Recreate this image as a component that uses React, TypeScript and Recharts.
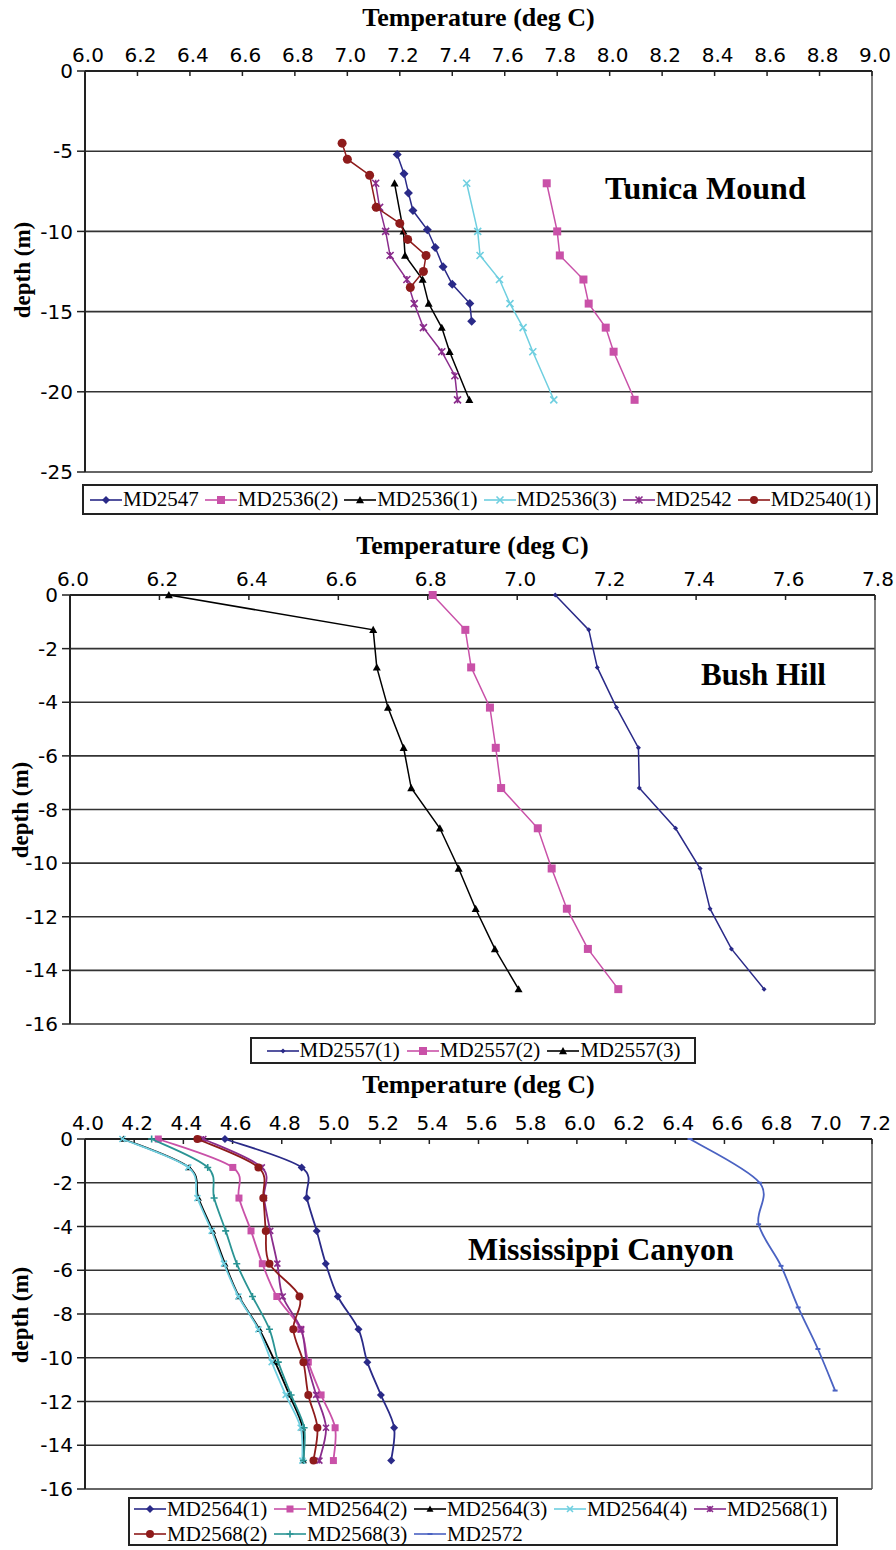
import React from "react";
import {
  CartesianGrid,
  Label,
  ReferenceLine,
  Scatter,
  ScatterChart,
  XAxis,
  YAxis
} from "recharts";

// ---- Tunica Mound ----
const tunicaTempTicks = [6.0, 6.2, 6.4, 6.6, 6.8, 7.0, 7.2, 7.4, 7.6, 7.8, 8.0, 8.2, 8.4, 8.6, 8.8, 9.0];
const tunicaDepthTicks = [0, -5, -10, -15, -20, -25];

const md2547Depth = [-5.2, -6.4, -7.6, -8.7, -9.9, -11.0, -12.2, -13.3, -14.5, -15.6];
const md2547Temp = [7.19, 7.216, 7.233, 7.25, 7.305, 7.335, 7.365, 7.4, 7.467, 7.474];

const md2536Depth = [-7, -10, -11.5, -13, -14.5, -16, -17.5, -20.5];
const md2536_2Temp = [7.76, 7.8, 7.81, 7.9, 7.92, 7.985, 8.015, 8.095];
const md2536_1Temp = [7.18, 7.214, 7.22, 7.287, 7.31, 7.36, 7.39, 7.465];
const md2536_3Temp = [7.455, 7.497, 7.506, 7.58, 7.62, 7.67, 7.707, 7.787];

const md2542Depth = [-7, -8.5, -10, -11.5, -13, -14.5, -16, -17.5, -19, -20.5];
const md2542Temp = [7.108, 7.123, 7.146, 7.163, 7.227, 7.255, 7.29, 7.36, 7.41, 7.42];

const md2540Depth = [-4.5, -5.5, -6.5, -8.5, -9.5, -10.5, -11.5, -12.5, -13.5];
const md2540Temp = [6.98, 7.0, 7.085, 7.11, 7.2, 7.23, 7.3, 7.29, 7.24];

// ---- Bush Hill ----
const bushTempTicks = [6.0, 6.2, 6.4, 6.6, 6.8, 7.0, 7.2, 7.4, 7.6, 7.8];
const bushDepthTicks = [0, -2, -4, -6, -8, -10, -12, -14, -16];

const coreDepth = [0, -1.3, -2.7, -4.2, -5.7, -7.2, -8.7, -10.2, -11.7, -13.2, -14.7];
const md2557_1Temp = [7.085, 7.16, 7.179, 7.222, 7.271, 7.273, 7.354, 7.409, 7.431, 7.479, 7.552];
const md2557_2Temp = [6.811, 6.884, 6.897, 6.939, 6.952, 6.964, 7.046, 7.077, 7.111, 7.158, 7.226];
const md2557_3Temp = [6.221, 6.678, 6.686, 6.711, 6.746, 6.763, 6.827, 6.869, 6.907, 6.95, 7.003];

// ---- Mississippi Canyon ----
const canyonTempTicks = [4.0, 4.2, 4.4, 4.6, 4.8, 5.0, 5.2, 5.4, 5.6, 5.8, 6.0, 6.2, 6.4, 6.6, 6.8, 7.0, 7.2];
const canyonDepthTicks = [0, -2, -4, -6, -8, -10, -12, -14, -16];

const md2564_1Temp = [4.569, 4.881, 4.902, 4.942, 4.979, 5.028, 5.112, 5.148, 5.203, 5.257, 5.245];
const md2564_2Temp = [4.298, 4.601, 4.626, 4.675, 4.721, 4.78, 4.877, 4.908, 4.96, 5.017, 5.01];
const md2564_3Temp = [4.156, 4.423, 4.461, 4.519, 4.569, 4.626, 4.709, 4.773, 4.831, 4.885, 4.888];
const md2564_4Temp = [4.152, 4.42, 4.457, 4.515, 4.565, 4.624, 4.705, 4.759, 4.816, 4.877, 4.884];
const md2568_1Temp = [4.481, 4.719, 4.728, 4.753, 4.782, 4.804, 4.879, 4.902, 4.94, 4.98, 4.953];
const md2568_2Temp = [4.457, 4.705, 4.725, 4.735, 4.75, 4.872, 4.847, 4.888, 4.908, 4.945, 4.929];
const md2568_3Temp = [4.271, 4.499, 4.525, 4.572, 4.617, 4.681, 4.75, 4.786, 4.838, 4.891, 4.888];
const md2572Depth = [0, -2, -3.9, -5.8, -7.7, -9.6, -11.5];
const md2572Temp = [6.46, 6.743, 6.739, 6.83, 6.9, 6.98, 7.05];

const NAVY = "#2a2a88";
const PINK = "#c951a8";
const CYAN = "#6fcfe0";
const PURPLE = "#8a2c8c";
const DARKRED = "#8e1b1b";
const TEAL = "#2a9494";
const STEEL = "#4a62c2";

type Kind = "diamond" | "square" | "triangle" | "x" | "star" | "circle" | "plus" | "dash";

type Series = {
  name: string;
  color: string;
  marker: Kind;
  size: number;
  temps: number[];
  depths: number[];
};

const zip = (temps: number[], depths: number[]) =>
  temps.map((t, i) => ({ t, d: depths[i] }));

const tunicaSeries: Series[] = [
  { name: "MD2547", color: NAVY, marker: "diamond", size: 9, temps: md2547Temp, depths: md2547Depth },
  { name: "MD2536(2)", color: PINK, marker: "square", size: 8, temps: md2536_2Temp, depths: md2536Depth },
  { name: "MD2536(1)", color: "#000", marker: "triangle", size: 8, temps: md2536_1Temp, depths: md2536Depth },
  { name: "MD2536(3)", color: CYAN, marker: "x", size: 7, temps: md2536_3Temp, depths: md2536Depth },
  { name: "MD2542", color: PURPLE, marker: "star", size: 7, temps: md2542Temp, depths: md2542Depth },
  { name: "MD2540(1)", color: DARKRED, marker: "circle", size: 9, temps: md2540Temp, depths: md2540Depth }
];

const bushSeries: Series[] = [
  { name: "MD2557(1)", color: NAVY, marker: "diamond", size: 5, temps: md2557_1Temp, depths: coreDepth },
  { name: "MD2557(2)", color: PINK, marker: "square", size: 8, temps: md2557_2Temp, depths: coreDepth },
  { name: "MD2557(3)", color: "#000", marker: "triangle", size: 8, temps: md2557_3Temp, depths: coreDepth }
];

const canyonSeries: Series[] = [
  { name: "MD2564(1)", color: NAVY, marker: "diamond", size: 8, temps: md2564_1Temp, depths: coreDepth },
  { name: "MD2564(2)", color: PINK, marker: "square", size: 7, temps: md2564_2Temp, depths: coreDepth },
  { name: "MD2564(3)", color: "#000", marker: "triangle", size: 7, temps: md2564_3Temp, depths: coreDepth },
  { name: "MD2564(4)", color: CYAN, marker: "x", size: 6, temps: md2564_4Temp, depths: coreDepth },
  { name: "MD2568(1)", color: PURPLE, marker: "star", size: 6, temps: md2568_1Temp, depths: coreDepth },
  { name: "MD2568(2)", color: DARKRED, marker: "circle", size: 8, temps: md2568_2Temp, depths: coreDepth },
  { name: "MD2568(3)", color: TEAL, marker: "plus", size: 7, temps: md2568_3Temp, depths: coreDepth },
  { name: "MD2572", color: STEEL, marker: "dash", size: 5, temps: md2572Temp, depths: md2572Depth }
];

// Excel-style smoothed line (Catmull-Rom through the points)
const excelSmooth = (context: any) => {
  let pts: number[][] = [];
  return {
    areaStart() {},
    areaEnd() {},
    lineStart() {
      pts = [];
    },
    point(x: number, y: number) {
      pts.push([+x, +y]);
    },
    lineEnd() {
      if (!pts.length) return;
      context.moveTo(pts[0][0], pts[0][1]);
      for (let i = 0; i < pts.length - 1; i++) {
        const p0 = pts[i - 1] || pts[i];
        const p1 = pts[i];
        const p2 = pts[i + 1];
        const p3 = pts[i + 2] || p2;
        context.bezierCurveTo(
          p1[0] + (p2[0] - p0[0]) / 6,
          p1[1] + (p2[1] - p0[1]) / 6,
          p2[0] - (p3[0] - p1[0]) / 6,
          p2[1] - (p3[1] - p1[1]) / 6,
          p2[0],
          p2[1]
        );
      }
    }
  };
};

function Marker({ kind, cx, cy, color, size }: { kind: Kind; cx: number; cy: number; color: string; size: number }) {
  if (cx == null || cy == null) return null;
  const h = size / 2;
  switch (kind) {
    case "diamond":
      return <path d={`M${cx} ${cy - h}L${cx + h} ${cy}L${cx} ${cy + h}L${cx - h} ${cy}Z`} fill={color} />;
    case "square":
      return <rect x={cx - h} y={cy - h} width={size} height={size} fill={color} />;
    case "triangle":
      return <path d={`M${cx} ${cy - h}L${cx + h} ${cy + h * 0.8}L${cx - h} ${cy + h * 0.8}Z`} fill={color} />;
    case "circle":
      return <circle cx={cx} cy={cy} r={h} fill={color} />;
    case "x":
      return (
        <path
          d={`M${cx - h} ${cy - h}L${cx + h} ${cy + h}M${cx - h} ${cy + h}L${cx + h} ${cy - h}`}
          stroke={color}
          strokeWidth={1.6}
          fill="none"
        />
      );
    case "star":
      return (
        <path
          d={`M${cx - h} ${cy - h}L${cx + h} ${cy + h}M${cx - h} ${cy + h}L${cx + h} ${cy - h}M${cx} ${cy - h}L${cx} ${cy + h}`}
          stroke={color}
          strokeWidth={1.6}
          fill="none"
        />
      );
    case "plus":
      return (
        <path
          d={`M${cx - h} ${cy}L${cx + h} ${cy}M${cx} ${cy - h}L${cx} ${cy + h}`}
          stroke={color}
          strokeWidth={1.6}
          fill="none"
        />
      );
    case "dash":
      return <path d={`M${cx - h} ${cy}L${cx + h} ${cy}`} stroke={color} strokeWidth={2} fill="none" />;
  }
  return null;
}

const xTickFont = { fontFamily: "DejaVu Sans", fontSize: 20, fill: "#000", dx: 3 };
const yTickFont = { fontFamily: "DejaVu Sans", fontSize: 20, fill: "#000" };

function ProfileChart({
  top,
  height,
  margin,
  series,
  xTicks,
  yTicks,
  smooth,
  lineWidth,
  titleOffset
}: {
  top: number;
  height: number;
  margin: { top: number; left: number; right: number; bottom: number };
  series: Series[];
  xTicks: number[];
  yTicks: number[];
  smooth: boolean;
  lineWidth: number;
  titleOffset: number;
}) {
  const xMin = xTicks[0];
  const xMax = xTicks[xTicks.length - 1];
  const yMin = yTicks[yTicks.length - 1];
  return (
    <div style={{ position: "absolute", left: 0, top, width: 896, height }}>
      <ScatterChart width={896} height={height} margin={margin}>
        <CartesianGrid horizontal vertical={false} stroke="#333" strokeWidth={1.6} />
        <XAxis
          type="number"
          dataKey="t"
          orientation="top"
          domain={[xMin, xMax]}
          ticks={xTicks}
          interval={0}
          height={40}
          tickSize={-5}
          tickMargin={14}
          tickFormatter={(v: number) => v.toFixed(1)}
          tick={xTickFont}
          axisLine={{ stroke: "#222", strokeWidth: 2 }}
          tickLine={{ stroke: "#222", strokeWidth: 1.5 }}
        >
          <Label
            value="Temperature (deg C)"
            position="top"
            offset={titleOffset}
            fontFamily="Liberation Serif"
            fontWeight="bold"
            fontSize={26}
            fill="#000"
          />
        </XAxis>
        <YAxis
          type="number"
          dataKey="d"
          domain={[yMin, 0]}
          ticks={yTicks}
          interval={0}
          width={60}
          tickSize={8}
          tickMargin={4}
          tick={yTickFont}
          axisLine={{ stroke: "#222", strokeWidth: 2 }}
          tickLine={{ stroke: "#222", strokeWidth: 1.5 }}
        />
        <ReferenceLine x={xMax} stroke="#555" strokeWidth={1.5} />
        {series.map((s) => (
          <Scatter
            key={s.name}
            name={s.name}
            data={zip(s.temps, s.depths)}
            fill={s.color}
            line={{ stroke: s.color, strokeWidth: lineWidth }}
            lineJointType={smooth ? (excelSmooth as any) : "linear"}
            shape={(p: any) => <Marker kind={s.marker} cx={p.cx} cy={p.cy} color={s.color} size={s.size} />}
            isAnimationActive={false}
          />
        ))}
      </ScatterChart>
    </div>
  );
}

function LegendItem({ s }: { s: Series }) {
  return (
    <div style={{ display: "flex", alignItems: "center", flex: "none" }}>
      <svg width={34} height={14} style={{ flex: "none" }}>
        <line x1={1} y1={7} x2={33} y2={7} stroke={s.color} strokeWidth={1.6} />
        <Marker kind={s.marker} cx={17} cy={7} color={s.color} size={Math.min(s.size, 8)} />
      </svg>
      <span style={{ whiteSpace: "nowrap" }}>{s.name}</span>
    </div>
  );
}

const legendBox: React.CSSProperties = {
  position: "absolute",
  boxSizing: "border-box",
  border: "2px solid #222",
  fontFamily: "Liberation Serif",
  fontSize: 21,
  color: "#000",
  background: "#fff"
};

function Caption({ text, left, top, size }: { text: string; left: number; top: number; size: number }) {
  return (
    <div
      style={{
        position: "absolute",
        left,
        top,
        fontFamily: "Liberation Serif",
        fontWeight: "bold",
        fontSize: size,
        lineHeight: `${size}px`,
        whiteSpace: "nowrap"
      }}
    >
      {text}
    </div>
  );
}

function DepthTitle({ cx, cy }: { cx: number; cy: number }) {
  return (
    <div
      style={{
        position: "absolute",
        left: cx,
        top: cy,
        transform: "translate(-50%, -50%) rotate(-90deg)",
        fontFamily: "Liberation Serif",
        fontWeight: "bold",
        fontSize: 23,
        lineHeight: "23px",
        whiteSpace: "nowrap"
      }}
    >
      depth (m)
    </div>
  );
}

export default function App() {
  return (
    <div style={{ position: "absolute", left: 0, top: 0, width: 896, height: 1550, background: "#fff" }}>
      <ProfileChart
        top={0}
        height={484}
        margin={{ top: 31, left: 25, right: 24, bottom: 12 }}
        series={tunicaSeries}
        xTicks={tunicaTempTicks}
        yTicks={tunicaDepthTicks}
        smooth={false}
        lineWidth={1.5}
        titleOffset={5}
      />
      <Caption text="Tunica Mound" left={605} top={172} size={32} />
      <DepthTitle cx={22} cy={270} />
      <div
        style={{
          ...legendBox,
          left: 82,
          top: 484,
          width: 796,
          height: 31,
          display: "flex",
          alignItems: "center",
          justifyContent: "center",
          gap: 5
        }}
      >
        {tunicaSeries.map((s) => (
          <LegendItem key={s.name} s={s} />
        ))}
      </div>

      <ProfileChart
        top={520}
        height={520}
        margin={{ top: 35, left: 10, right: 21, bottom: 16 }}
        series={bushSeries}
        xTicks={bushTempTicks}
        yTicks={bushDepthTicks}
        smooth={false}
        lineWidth={1.5}
        titleOffset={1}
      />
      <Caption text="Bush Hill" left={701} top={659} size={31} />
      <DepthTitle cx={20} cy={810} />
      <div
        style={{
          ...legendBox,
          left: 250,
          top: 1037,
          width: 446,
          height: 27,
          display: "flex",
          alignItems: "center",
          justifyContent: "center",
          gap: 6
        }}
      >
        {bushSeries.map((s) => (
          <LegendItem key={s.name} s={s} />
        ))}
      </div>

      <ProfileChart
        top={1060}
        height={440}
        margin={{ top: 39, left: 25, right: 24, bottom: 11 }}
        series={canyonSeries}
        xTicks={canyonTempTicks}
        yTicks={canyonDepthTicks}
        smooth={true}
        lineWidth={1.8}
        titleOffset={6}
      />
      <Caption text="Mississippi Canyon" left={468} top={1233} size={32} />
      <DepthTitle cx={20} cy={1315} />
      <div
        style={{
          ...legendBox,
          left: 128,
          top: 1497,
          width: 710,
          height: 49,
          display: "grid",
          gridTemplateColumns: "repeat(5, 140px)",
          alignContent: "center",
          paddingLeft: 3
        }}
      >
        {canyonSeries.map((s) => (
          <LegendItem key={s.name} s={s} />
        ))}
      </div>
    </div>
  );
}
